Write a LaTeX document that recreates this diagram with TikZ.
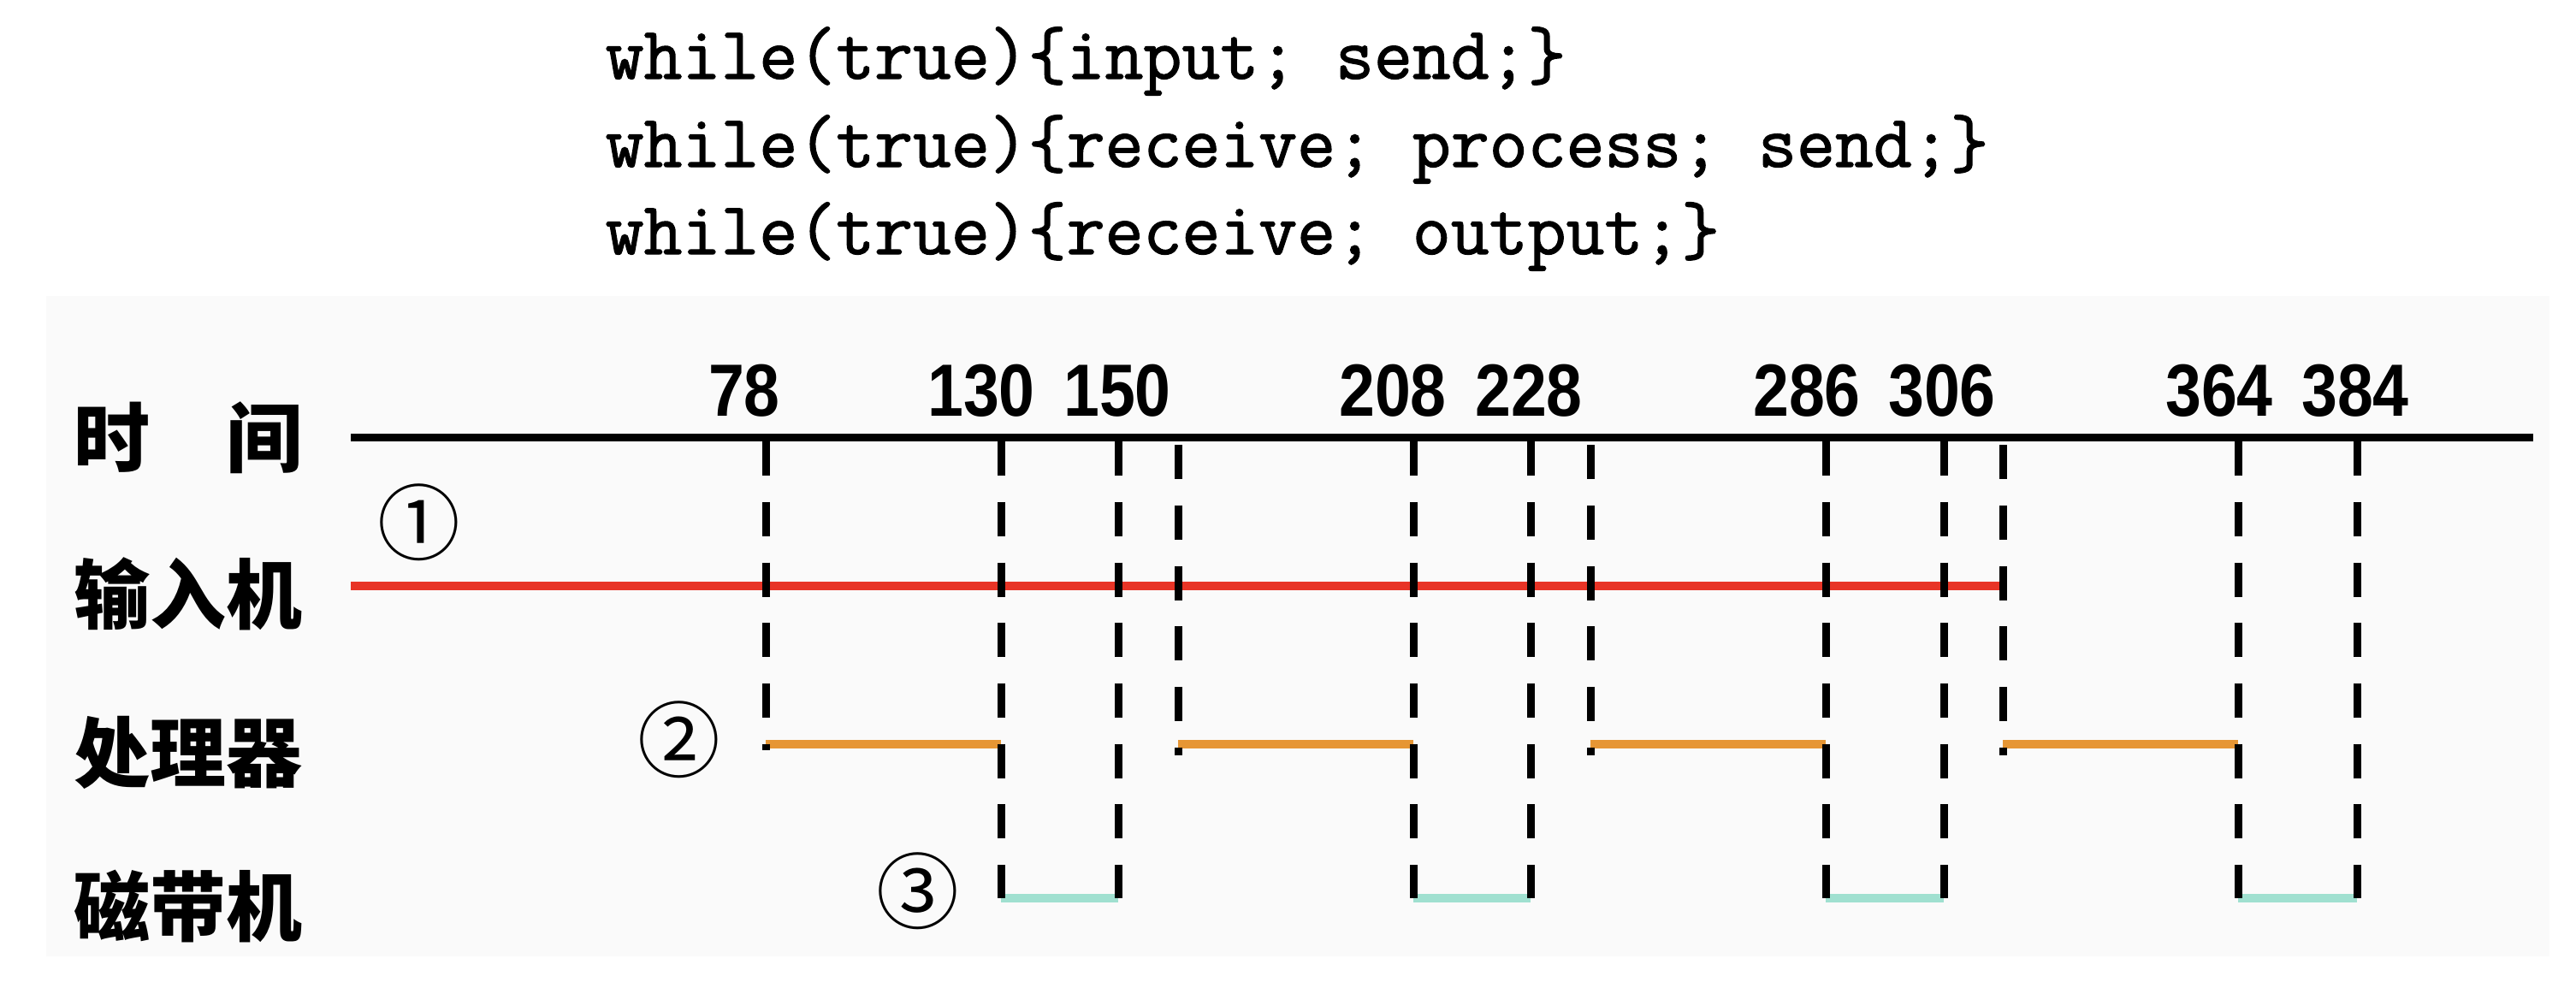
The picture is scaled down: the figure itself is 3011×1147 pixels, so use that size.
\documentclass[tikz,border=0pt]{standalone}
\usepackage{fontspec}
\newfontfamily\cjk{Noto Sans CJK SC}
\newfontfamily\numfont{Liberation Sans}[FakeStretch=0.87]
\newfontfamily\codefont{Latin Modern Mono}[FakeBold=1.5]
\usepackage{tikz}
\usetikzlibrary{positioning}

\definecolor{inred}{RGB}{232,52,38}
\definecolor{cpuorange}{RGB}{230,150,52}
\definecolor{tapecyan}{RGB}{160,224,208}

\begin{document}
\begin{tikzpicture}[
    x=0.01cm, y=-0.01cm,
    code/.style={anchor=base west, inner sep=0pt, font=\fontsize{24.8}{30}\selectfont\codefont},
    row/.style={anchor=west, inner sep=0pt, font=\fontsize{25.3}{30}\selectfont\cjk\bfseries},
    tick/.style={anchor=base, inner sep=0pt, font=\fontsize{24.6}{28}\selectfont\numfont\bfseries},
    stepno/.style={inner sep=0pt, font=\fontsize{27.5}{30}\selectfont\cjk},
    axis/.style={line width=0.09cm, draw=black},
    guide/.style={line width=0.09cm, draw=black, dash pattern=on 0.4cm off 0.307cm},
    busy/.style={line width=0.095cm}
]

\useasboundingbox (0,0) rectangle (3011,1147);
\fill[black!2] (54,346) rectangle (2980,1118);

% the three programs
\node[code] (prog1) at (707,92) {while(true)\{input; send;\}};
\node[code] (prog2) at (707,195) {while(true)\{receive; process; send;\}};
\node[code] (prog3) at (707,297) {while(true)\{receive; output;\}};

% rows
\node[row] (time) at (86,512) {时\hspace{1em}间};
\node[row] (inp) at (86,694) {输入机};
\node[row] (cpu) at (86,880) {处理器};
\node[row] (tape) at (86,1059) {磁带机};

% time axis
\coordinate (axstart) at (410,511);
\coordinate (axend) at (2961,511);
\draw[axis] (axstart) -- (axend);

\foreach \t/\lx in {78/870,130/1147,150/1306,208/1628,228/1787,286/2112,306/2270,364/2594,384/2753}
    \node[tick] (n\t) at (\lx,486) {\t};

% busy periods
\coordinate (inend) at (2341,685);
\draw[busy, inred] (410,685) coordinate (inbeg) -- (inend);
\foreach \a/\b in {895/1170,1377/1652,1859/2134,2341/2616}
    \draw[busy, cpuorange] (\a,870) coordinate (c\a) -- (\b,870) coordinate (d\b);
\foreach \a/\b in {1170/1307,1652/1789,2134/2272,2616/2755}
    \draw[busy, tapecyan] (\a,1050) coordinate (e\a) -- (\b,1050) coordinate (f\b);

% dashed guides
\draw[guide] (895,516) -- (895,877);
\foreach \x in {1170,1307,1652,1789,2134,2272,2616,2755}
    \draw[guide] (\x,516) -- (\x,1050);
\foreach \x in {1377,1859,2341}
    \draw[guide] (\x,520) -- (\x,883);

% step marks
\node[stepno] (s1) at (490,611) {①};
\node[stepno] (s2) at (794,865) {②};
\node[stepno] (s3) at (1073,1042) {③};

\end{tikzpicture}
\end{document}
